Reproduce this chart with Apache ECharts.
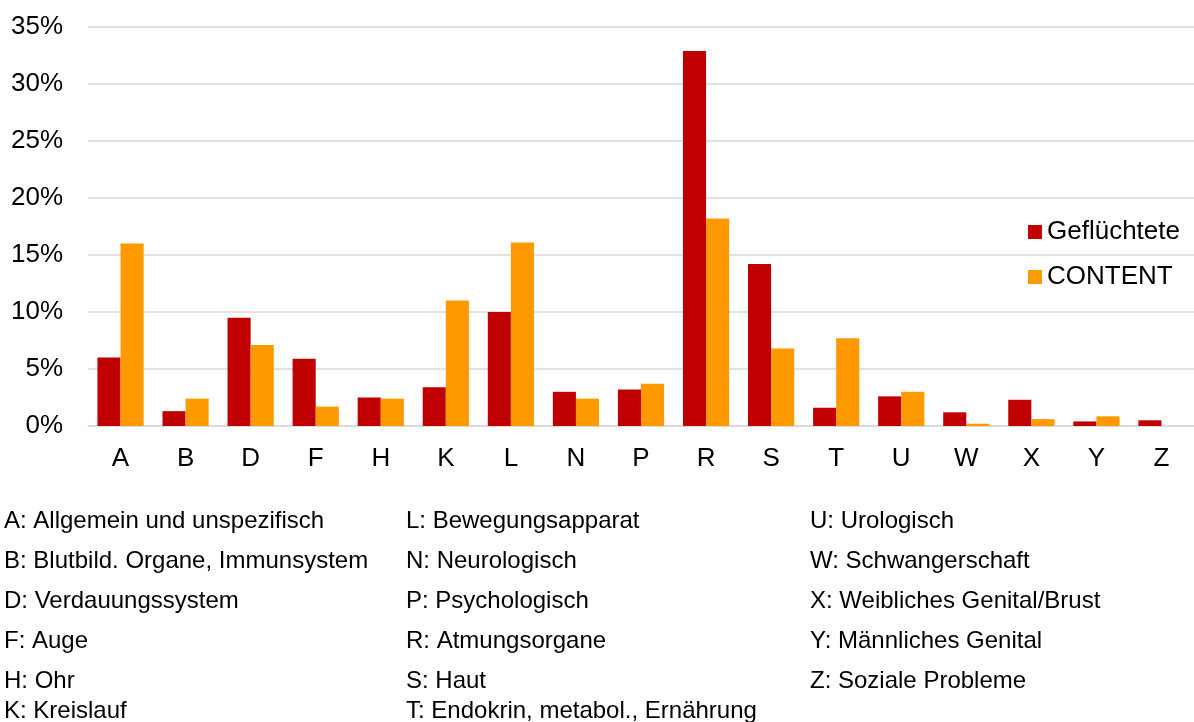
<!DOCTYPE html>
<html>
<head>
<meta charset="utf-8">
<script src="https://cdn.jsdelivr.net/npm/echarts@6/dist/echarts.min.js"></script>
<style>
  html, body { margin: 0; padding: 0; background: #fff; }
  #chart { width: 1194px; height: 722px; }
</style>
</head>
<body>
<div id="chart"></div>
<script>
// ICPC chapter codes on the x axis
const categories = ['A', 'B', 'D', 'F', 'H', 'K', 'L', 'N', 'P', 'R', 'S', 'T', 'U', 'W', 'X', 'Y', 'Z'];

// Share of consultations per chapter, in percent
const gefluechtete = [6.0, 1.3, 9.5, 5.9, 2.5, 3.4, 10.0, 3.0, 3.2, 32.9, 14.2, 1.6, 2.6, 1.2, 2.3, 0.4, 0.5];
const content      = [16.0, 2.4, 7.1, 1.7, 2.4, 11.0, 16.1, 2.4, 3.7, 18.2, 6.8, 7.7, 3.0, 0.2, 0.6, 0.85, 0];

const seriesNames = ['Geflüchtete', 'CONTENT'];

// Key to the chapter codes, printed in three columns below the chart
const keyColumn1 = ['A: Allgemein und unspezifisch', 'B: Blutbild. Organe, Immunsystem', 'D: Verdauungssystem', 'F: Auge', 'H: Ohr', 'K: Kreislauf'];
const keyColumn2 = ['L: Bewegungsapparat', 'N: Neurologisch', 'P: Psychologisch', 'R: Atmungsorgane', 'S: Haut', 'T: Endokrin, metabol., Ernährung'];
const keyColumn3 = ['U: Urologisch', 'W: Schwangerschaft', 'X: Weibliches Genital/Brust', 'Y: Männliches Genital', 'Z: Soziale Probleme'];

const FONT = '"Liberation Sans", Arial, sans-serif';
const keyColumnX = [4, 406, 810];
const keyRowY = [521, 561, 601, 641, 681, 711];

const keyTexts = [];
[keyColumn1, keyColumn2, keyColumn3].forEach(function (col, ci) {
  col.forEach(function (txt, ri) {
    keyTexts.push({
      type: 'text',
      x: keyColumnX[ci],
      y: keyRowY[ri],
      style: {
        text: txt,
        fill: '#000',
        fontSize: 24,
        fontFamily: FONT,
        verticalAlign: 'middle',
        align: 'left'
      }
    });
  });
});

const chart = echarts.init(document.getElementById('chart'), null, { renderer: 'canvas' });

chart.setOption({
  backgroundColor: '#fff',
  animation: false,
  color: ['#C00000', '#FF9900'],
  grid: { left: 88, right: -10, top: 27, bottom: 296, containLabel: false },
  legend: {
    orient: 'vertical',
    left: 1023,
    top: 214,
    icon: 'rect',
    itemWidth: 14,
    itemHeight: 14,
    itemGap: 19,
    data: seriesNames,
    textStyle: { fontSize: 26, fontFamily: FONT, color: '#000' }
  },
  xAxis: {
    type: 'category',
    data: categories,
    axisTick: { show: false },
    axisLine: { lineStyle: { color: '#d9d9d9', width: 1.5 } },
    axisLabel: { color: '#000', fontSize: 26, fontFamily: FONT, margin: 20 }
  },
  yAxis: {
    type: 'value',
    min: 0,
    max: 35,
    interval: 5,
    axisLine: { show: false },
    axisTick: { show: false },
    splitLine: { lineStyle: { color: '#d9d9d9', width: 1.5 } },
    axisLabel: { color: '#000', fontSize: 26, fontFamily: FONT, margin: 25, formatter: '{value}%' }
  },
  series: [
    {
      name: seriesNames[0],
      type: 'bar',
      data: gefluechtete,
      barGap: '0%',
      barCategoryGap: '29%'
    },
    {
      name: seriesNames[1],
      type: 'bar',
      data: content,
      barGap: '0%',
      barCategoryGap: '29%'
    }
  ],
  graphic: keyTexts
});
</script>
</body>
</html>
